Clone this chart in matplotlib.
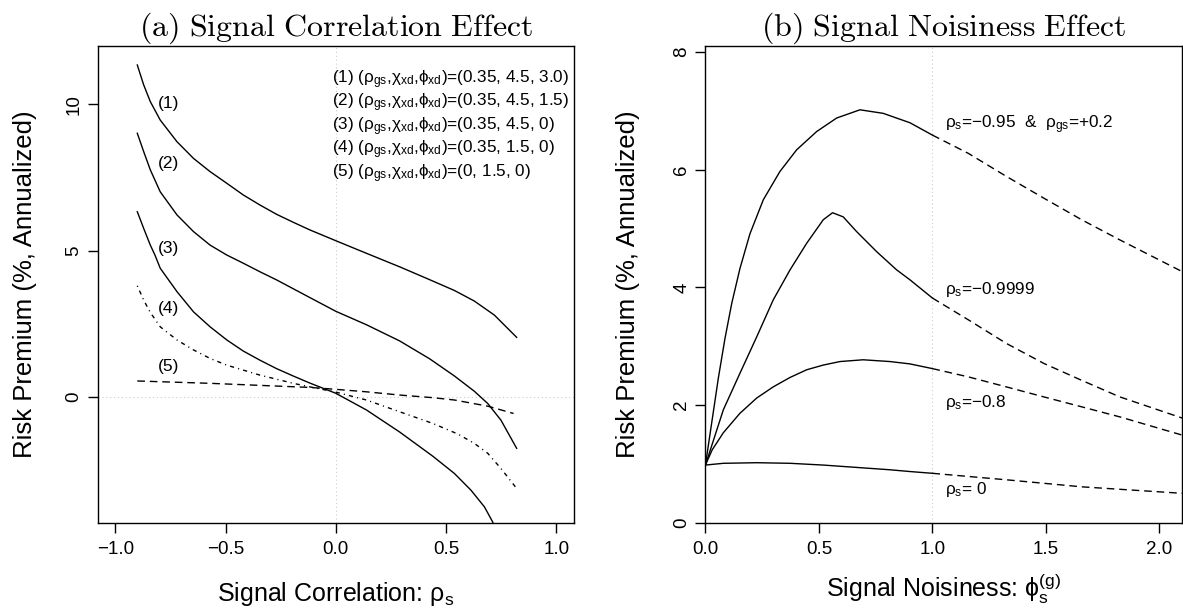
import matplotlib
matplotlib.use("Agg")
import matplotlib.pyplot as plt

plt.rcParams['font.family'] = ['Liberation Sans', 'DejaVu Sans']
plt.rcParams['mathtext.fontset'] = 'custom'
plt.rcParams['mathtext.rm'] = 'Liberation Sans'
plt.rcParams['mathtext.it'] = 'Liberation Sans:italic'
plt.rcParams['mathtext.default'] = 'regular'

# ---- panel (a): risk premium vs signal correlation, five parameter sets
rho_1 = [-0.9, -0.871, -0.841, -0.796, -0.72, -0.645, -0.57, -0.494, -0.419, -0.344, -0.268, -0.193, -0.118,
         0.0, 0.139, 0.289, 0.41, 0.538, 0.628, 0.719, 0.82]
rp_1 = [11.34, 10.66, 10.09, 9.46, 8.72, 8.15, 7.70, 7.30, 6.90, 6.56, 6.24, 5.97, 5.71,
        5.34, 4.91, 4.45, 4.06, 3.64, 3.28, 2.80, 2.04]
rho_2 = [-0.9, -0.871, -0.841, -0.796, -0.72, -0.645, -0.57, -0.494, -0.419, -0.344, -0.268, -0.193, -0.118,
         0.0, 0.139, 0.289, 0.425, 0.538, 0.628, 0.689, 0.749, 0.82]
rp_2 = [9.01, 8.38, 7.76, 7.01, 6.22, 5.65, 5.19, 4.85, 4.57, 4.28, 4.0, 3.70, 3.40,
        2.93, 2.47, 1.92, 1.31, 0.72, 0.20, -0.22, -0.79, -1.75]
rho_3 = [-0.9, -0.871, -0.841, -0.82, -0.796, -0.72, -0.645, -0.57, -0.494, -0.419, -0.344, -0.268, -0.193,
         -0.118, 0.0, 0.139, 0.289, 0.44, 0.538, 0.613, 0.674, 0.711, 0.74]
rp_3 = [6.33, 5.76, 5.19, 4.85, 4.40, 3.60, 2.91, 2.40, 1.95, 1.57, 1.26, 0.97, 0.72,
        0.48, 0.13, -0.44, -1.19, -2.02, -2.61, -3.18, -3.75, -4.26, -4.8]
rho_4 = [-0.9, -0.871, -0.841, -0.796, -0.72, -0.645, -0.57, -0.494, -0.419, -0.344, -0.268, -0.193, -0.118,
         0.0, 0.139, 0.289, 0.44, 0.553, 0.628, 0.689, 0.749, 0.82]
rp_4 = [3.80, 3.31, 2.89, 2.40, 1.95, 1.61, 1.32, 1.09, 0.92, 0.75, 0.61, 0.47, 0.35,
        0.17, -0.10, -0.50, -0.90, -1.26, -1.58, -1.92, -2.44, -3.12]
rho_5 = [-0.9, -0.57, -0.118, 0.0, 0.139, 0.289, 0.44, 0.538, 0.689, 0.806]
rp_5 = [0.55, 0.47, 0.33, 0.265, 0.18, 0.07, -0.02, -0.10, -0.31, -0.56]
curve_tags = ['(1)', '(2)', '(3)', '(4)', '(5)']
tag_y = [10.01, 7.98, 5.08, 3.01, 1.04]
legend_lines = [
    '(1) (ρ$_{gs}$,χ$_{xd}$,ϕ$_{xd}$)=(0.35, 4.5, 3.0)',
    '(2) (ρ$_{gs}$,χ$_{xd}$,ϕ$_{xd}$)=(0.35, 4.5, 1.5)',
    '(3) (ρ$_{gs}$,χ$_{xd}$,ϕ$_{xd}$)=(0.35, 4.5, 0)',
    '(4) (ρ$_{gs}$,χ$_{xd}$,ϕ$_{xd}$)=(0.35, 1.5, 0)',
    '(5) (ρ$_{gs}$,χ$_{xd}$,ϕ$_{xd}$)=(0, 1.5, 0)',
]
legend_y = [10.72, 9.92, 9.11, 8.31, 7.51]

# ---- panel (b): risk premium vs signal noisiness (solid up to 1, dashed after)
phi_a = [0.0, 0.057, 0.086, 0.116, 0.152, 0.196, 0.255, 0.328, 0.402, 0.49, 0.578, 0.681, 0.783, 0.901, 1.0]
rp_a = [0.98, 2.46, 3.13, 3.73, 4.32, 4.91, 5.49, 5.97, 6.34, 6.65, 6.88, 7.02, 6.96, 6.80, 6.59]
phi_a_d = [1.0, 1.158, 1.325, 1.49, 1.658, 1.825, 2.1]
rp_a_d = [6.59, 6.28, 5.89, 5.52, 5.15, 4.81, 4.27]
phi_b = [0.0, 0.079, 0.152, 0.226, 0.299, 0.373, 0.446, 0.519, 0.56, 0.607, 0.666, 0.754, 0.842, 0.901, 1.0]
rp_b = [0.98, 1.92, 2.54, 3.16, 3.79, 4.30, 4.75, 5.15, 5.27, 5.20, 4.95, 4.61, 4.30, 4.13, 3.82]
phi_b_d = [1.0, 1.158, 1.325, 1.49, 1.658, 1.825, 2.1]
rp_b_d = [3.82, 3.45, 3.05, 2.71, 2.42, 2.14, 1.78]
phi_c = [0.0, 0.03, 0.079, 0.152, 0.226, 0.299, 0.373, 0.446, 0.519, 0.593, 0.695, 0.813, 0.901, 1.0]
rp_c = [0.98, 1.24, 1.53, 1.86, 2.12, 2.31, 2.47, 2.60, 2.68, 2.74, 2.77, 2.74, 2.70, 2.62]
phi_c_d = [1.0, 1.158, 1.325, 1.49, 1.658, 1.825, 2.1]
rp_c_d = [2.62, 2.48, 2.31, 2.14, 1.97, 1.80, 1.49]
phi_d = [0.0, 0.079, 0.226, 0.373, 0.519, 0.666, 0.813, 0.901, 1.0]
rp_d = [0.98, 1.01, 1.02, 1.01, 0.98, 0.94, 0.90, 0.87, 0.84]
phi_d_d = [1.0, 1.325, 1.658, 2.1]
rp_d_d = [0.84, 0.73, 0.61, 0.50]
case_labels = ['ρ$_s$=−0.95  &  ρ$_{gs}$=+0.2', 'ρ$_s$=−0.9999', 'ρ$_s$=−0.8', 'ρ$_s$= 0']
case_y = [6.71, 3.89, 1.96, 0.48]

fig = plt.figure(figsize=(11.83, 6.10), dpi=100)
ax1 = fig.add_axes([0.0825, 0.1431, 0.4027, 0.782])
ax2 = fig.add_axes([0.5963, 0.1431, 0.4029, 0.782])

lw = 1.0
dash = (5.5, 3.5)
ax1.plot(rho_1, rp_1, color='black', lw=lw)
ax1.plot(rho_2, rp_2, color='black', lw=lw)
ax1.plot(rho_3, rp_3, color='black', lw=lw)
ax1.plot(rho_4, rp_4, color='black', lw=lw, dashes=(0.8, 3, 3, 3))
ax1.plot(rho_5, rp_5, color='black', lw=lw, dashes=dash)
ax1.axvline(0, color='#cccccc', lw=0.8, ls=(0, (1, 2.5)), zorder=0)
ax1.axhline(0, color='#cccccc', lw=0.8, ls=(0, (1, 2.5)), zorder=0)
for t, y in zip(curve_tags, tag_y):
    ax1.text(-0.758, y, t, fontsize=12.5, ha='center', va='center')
for t, y in zip(legend_lines, legend_y):
    ax1.text(-0.017, y, t, fontsize=12.3, ha='left', va='baseline')
ax1.set_xlim(-1.08, 1.08)
ax1.set_ylim(-4.29, 12.0)
ax1.set_xticks([-1.0, -0.5, 0.0, 0.5, 1.0])
ax1.set_xticklabels(['−1.0', '−0.5', '0.0', '0.5', '1.0'])
ax1.set_yticks([0, 5, 10])
ax1.set_xlabel('Signal Correlation: ρ$_s$', fontsize=18)
ax1.xaxis.set_label_coords(0.5, -0.121)
ax1.yaxis.set_label_coords(-0.127, 0.5)
ax1.set_title(r'$\mathrm{(a)\ Signal\ Correlation\ Effect}$', fontsize=23,
              math_fontfamily='cm', pad=3)

for xs, ys, xd, yd in [(phi_a, rp_a, phi_a_d, rp_a_d), (phi_b, rp_b, phi_b_d, rp_b_d),
                       (phi_c, rp_c, phi_c_d, rp_c_d), (phi_d, rp_d, phi_d_d, rp_d_d)]:
    ax2.plot(xs, ys, color='black', lw=lw)
    ax2.plot(xd, yd, color='black', lw=lw, dashes=dash)
ax2.axvline(1.0, color='#cccccc', lw=0.8, ls=(0, (1, 2.5)), zorder=0)
for t, y in zip(case_labels, case_y):
    ax2.text(1.054, y, t, fontsize=12.3, ha='left', va='baseline')
ax2.set_xlim(0, 2.1)
ax2.set_ylim(0, 8.11)
ax2.set_xticks([0.0, 0.5, 1.0, 1.5, 2.0])
ax2.set_xticklabels(['0.0', '0.5', '1.0', '1.5', '2.0'])
ax2.set_yticks([0, 2, 4, 6, 8])
ax2.set_xlabel('Signal Noisiness: ϕ$_s^{(g)}$', fontsize=18)
ax2.xaxis.set_label_coords(0.5, -0.104)
ax2.yaxis.set_label_coords(-0.137, 0.5)
ax2.set_title(r'$\mathrm{(b)\ Signal\ Noisiness\ Effect}$', fontsize=23,
              math_fontfamily='cm', pad=3)

for ax in (ax1, ax2):
    ax.set_ylabel('Risk Premium (%, Annualized)', fontsize=18.5)
    ax.tick_params(axis='x', direction='out', length=7, width=1, labelsize=13.5, pad=6.5)
    ax.tick_params(axis='y', direction='out', length=7, width=1, labelsize=13.5, pad=4)
    for lab in ax.get_yticklabels():
        lab.set_rotation(90)
        lab.set_va('center')
    for s in ax.spines.values():
        s.set_linewidth(1.0)

fig.savefig('out.png', dpi=100)
